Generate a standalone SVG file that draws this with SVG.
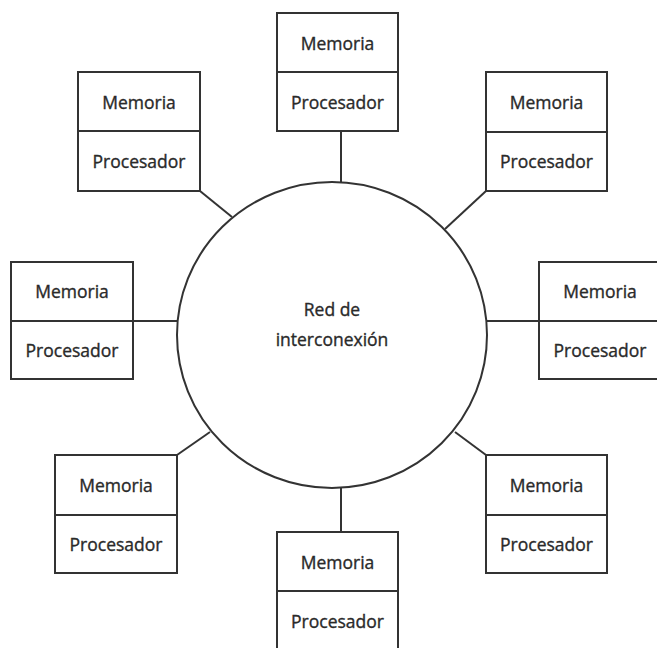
<svg xmlns="http://www.w3.org/2000/svg" width="657" height="648" viewBox="0 0 657 648">
  <style>
    .box { fill: #ffffff; stroke: #333333; stroke-width: 2; }
    .div { stroke: #333333; stroke-width: 2; }
    .link { stroke: #333333; stroke-width: 2; fill: none; }
    .hub { fill: #ffffff; stroke: #333333; stroke-width: 2; }
    text { font-family: "Open Sans", "Liberation Sans", sans-serif; font-size: 17.5px; fill: #2a2a2a; stroke: #2a2a2a; stroke-width: 0.35; text-anchor: middle; }
  </style>
  <rect width="657" height="648" fill="#ffffff"/>

  <!-- connectors from each node to the central network -->
  <g id="connectors">
    <line class="link" x1="341" y1="131" x2="341" y2="182"/>
    <line class="link" x1="200" y1="191" x2="232" y2="217"/>
    <line class="link" x1="486" y1="191" x2="445" y2="229"/>
    <line class="link" x1="133" y1="321" x2="177" y2="321"/>
    <line class="link" x1="486" y1="321" x2="539" y2="321"/>
    <line class="link" x1="177" y1="455" x2="210" y2="432"/>
    <line class="link" x1="486" y1="455" x2="455" y2="432"/>
    <line class="link" x1="341" y1="487" x2="341" y2="532"/>
  </g>

  <!-- central interconnection network -->
  <g id="red">
    <ellipse class="hub" cx="332" cy="335" rx="155" ry="153"/>
    <text x="332" y="316">Red de</text>
    <text x="332" y="346">interconexión</text>
  </g>

  <g id="nodo-n">
    <rect class="box" x="277" y="13" width="121" height="118"/>
    <line class="div" x1="277" y1="72" x2="398" y2="72"/>
    <text x="337.5" y="50">Memoria</text>
    <text x="337.5" y="109">Procesador</text>
  </g>

  <g id="nodo-no">
    <rect class="box" x="78" y="72" width="122" height="119"/>
    <line class="div" x1="78" y1="131" x2="200" y2="131"/>
    <text x="139" y="109">Memoria</text>
    <text x="139" y="168">Procesador</text>
  </g>

  <g id="nodo-ne">
    <rect class="box" x="486" y="72" width="121" height="119"/>
    <line class="div" x1="486" y1="132" x2="607" y2="132"/>
    <text x="546.5" y="109">Memoria</text>
    <text x="546.5" y="168">Procesador</text>
  </g>

  <g id="nodo-o">
    <rect class="box" x="11" y="262" width="122" height="117"/>
    <line class="div" x1="11" y1="321" x2="133" y2="321"/>
    <text x="72" y="298">Memoria</text>
    <text x="72" y="357">Procesador</text>
  </g>

  <g id="nodo-e">
    <rect class="box" x="539" y="262" width="122" height="117"/>
    <line class="div" x1="539" y1="321" x2="661" y2="321"/>
    <text x="600" y="298">Memoria</text>
    <text x="600" y="357">Procesador</text>
  </g>

  <g id="nodo-so">
    <rect class="box" x="55" y="455" width="122" height="118"/>
    <line class="div" x1="55" y1="515" x2="177" y2="515"/>
    <text x="116" y="492">Memoria</text>
    <text x="116" y="551">Procesador</text>
  </g>

  <g id="nodo-se">
    <rect class="box" x="486" y="455" width="121" height="118"/>
    <line class="div" x1="486" y1="515" x2="607" y2="515"/>
    <text x="546.5" y="492">Memoria</text>
    <text x="546.5" y="551">Procesador</text>
  </g>

  <g id="nodo-s">
    <rect class="box" x="277" y="532" width="121" height="120"/>
    <line class="div" x1="277" y1="591" x2="398" y2="591"/>
    <text x="337.5" y="569">Memoria</text>
    <text x="337.5" y="628">Procesador</text>
  </g>
</svg>
